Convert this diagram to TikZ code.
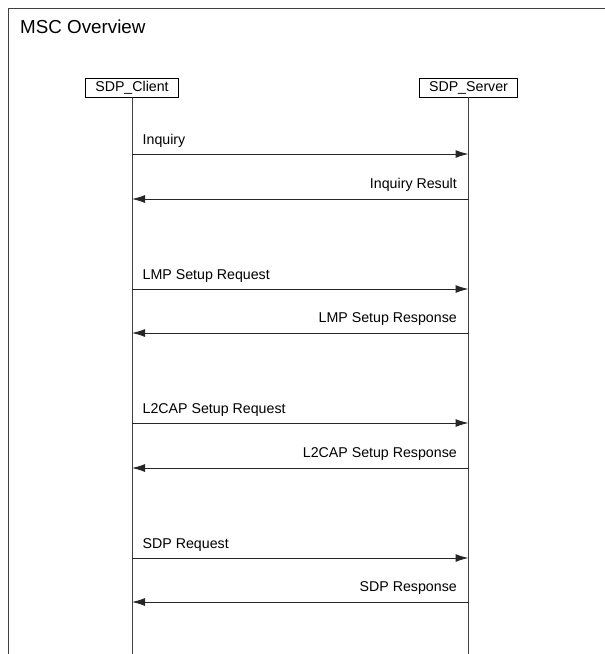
\documentclass[tikz,border=0pt]{standalone}
\usepackage{fontspec}
\setmainfont{Liberation Sans}
\usetikzlibrary{arrows.meta}
\begin{document}
\begin{tikzpicture}
[x=1pt, y=-1pt,
instance/.style={draw, line width=0.9pt, minimum height=19pt, inner xsep=9.5pt, inner ysep=0pt,
                 font=\fontsize{14.2}{16}\selectfont},
lifeline/.style={draw=black!75, line width=1pt},
msg/.style={draw=black!85, line width=1pt, -{Latex[length=13pt,width=8pt]}},
msglabel/.style={font=\fontsize{14.2}{16}\selectfont, inner sep=0pt}
]
\useasboundingbox (0,0) rectangle (605,654);
% frame, open at the bottom
\draw[black!75, line width=1pt] (8,654) -- (8,8) -- (605,8);
\node[anchor=base west, inner sep=0pt, font=\fontsize{18.8}{20}\selectfont] (title) at (20,33) {MSC Overview};
% instances
\node[instance] (client) at (132,88) {SDP\_Client};
\node[instance] (server) at (468.5,87.5) {SDP\_Server};
\coordinate (clientend) at (client.south |- 0,654);
\coordinate (serverend) at (server.south |- 0,654);
\path[lifeline] (client) -- (clientend);
\path[lifeline] (server) -- (serverend);
% requests
\foreach \y/\txt [count=\i] in {154/Inquiry, 289/LMP Setup Request, 423/L2CAP Setup Request, 558/SDP Request}{
    \coordinate (c\i) at (client.south |- 0,\y);
    \coordinate (s\i) at (server.south |- 0,\y);
    \draw[msg] (c\i) -- (s\i);
    \node[msglabel, anchor=base west] (req\i) at ([shift={(10.5,-10)}]c\i) {\txt};
}
% responses
\foreach \y/\txt [count=\i] in {199/Inquiry Result, 333/LMP Setup Response, 468/L2CAP Setup Response, 602/SDP Response}{
    \coordinate (sr\i) at (server.south |- 0,\y);
    \coordinate (cr\i) at (client.south |- 0,\y);
    \draw[msg] (sr\i) -- (cr\i);
    \node[msglabel, anchor=base east] (resp\i) at ([shift={(-11.5,-11)}]sr\i) {\txt};
}
\end{tikzpicture}
\end{document}
